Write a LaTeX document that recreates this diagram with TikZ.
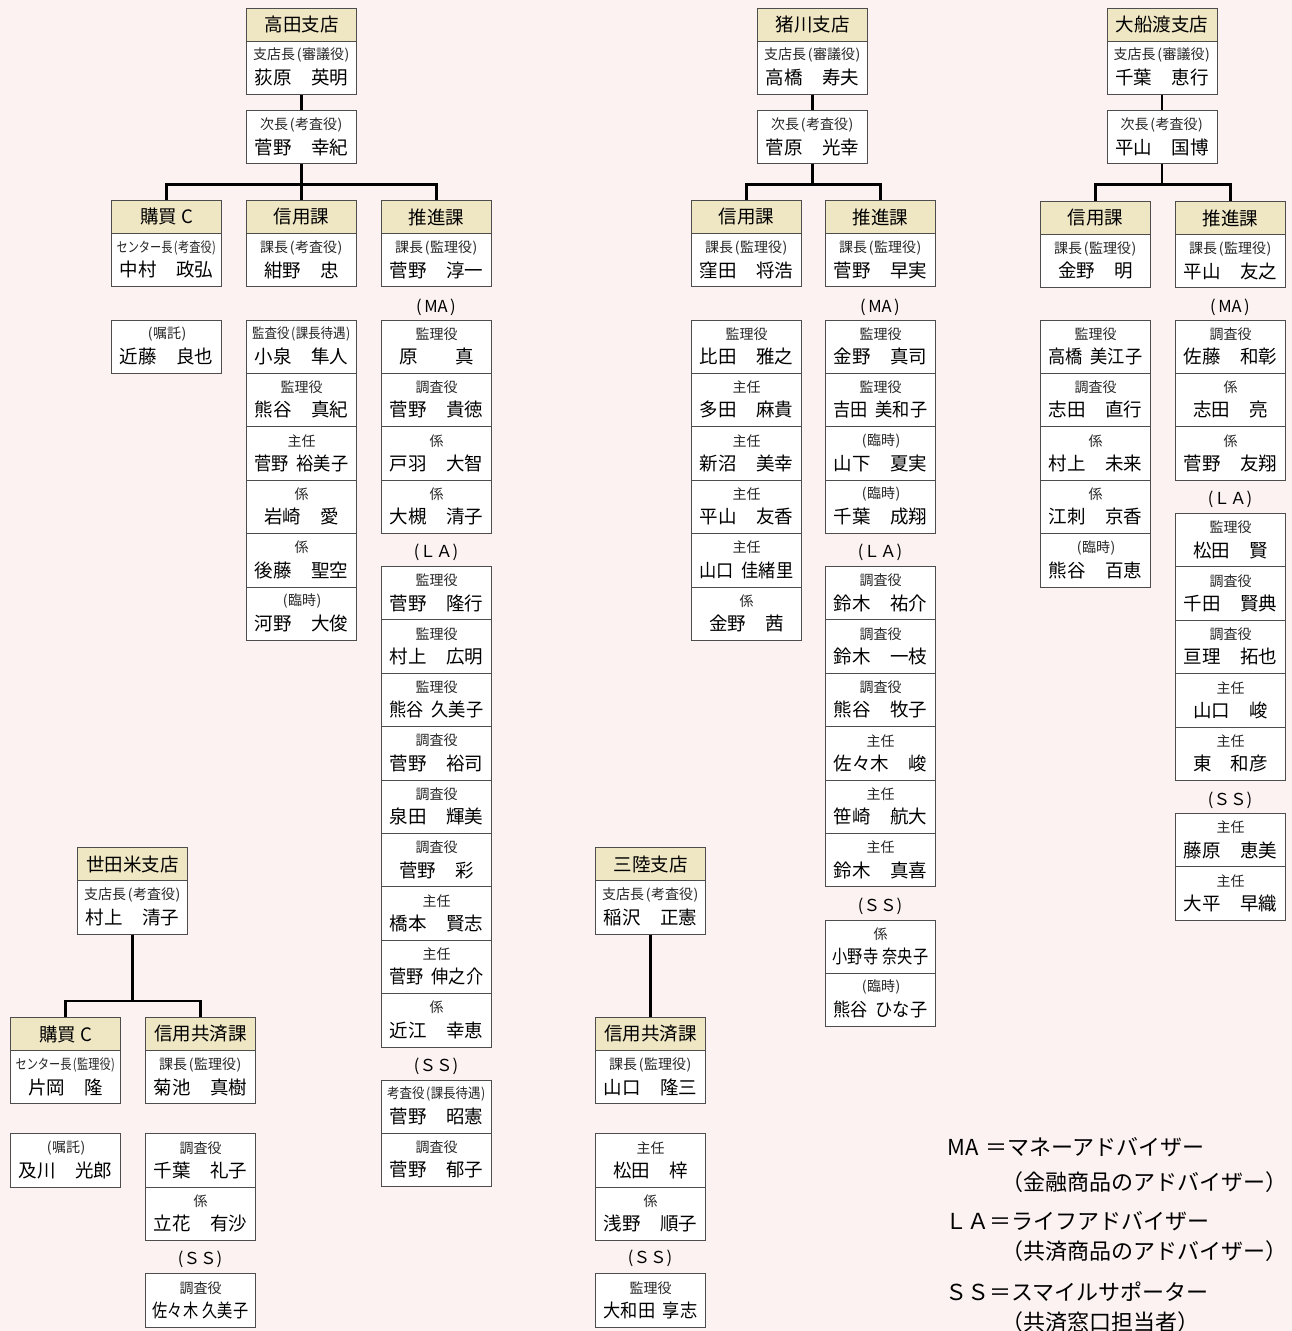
\documentclass[tikz,border=0pt]{standalone}
\usepackage{fontspec}
\setmainfont{Noto Sans CJK JP}
\usepackage{graphicx}
\definecolor{bgpink}{HTML}{FCF2F2}
\definecolor{hdrtan}{HTML}{EFE6C3}
\definecolor{bordergray}{HTML}{4D4D4D}
\def\cellH{53.4}
\newcommand\nmA[2]{\makebox[5.05em]{#1\hfill#2}}
\newcommand\nmB[2]{\makebox[4.05em]{#1\hfill#2}}
\newcommand\nmC[2]{\scalebox{0.82}[1]{#1\hspace{0.3em}#2}}
\newcommand\nmD[2]{\scalebox{0.93}[1]{#1\hspace{0.45em}#2}}
\newcommand\sqz[2]{\scalebox{#1}[1]{#2}}
\newcommand\pr[1]{\kern0.12em(\kern0.04em#1\kern0.04em)\kern0.04em}
\newcommand\mkhdr[4]{\node[hdrbox, anchor=north west] (#1) at (#2,#3) {#4};}
\newcommand\mkcell[5]{%
  \node[cellbox, anchor=north west] (#1) at (#2,#3) {};
  \node[roletxt] (#1r) at ([yshift=-14.5pt]#1.north) {#4};
  \node[nametxt] (#1n) at ([yshift=-37pt]#1.north) {#5};}
\begin{document}
\begin{tikzpicture}[x=1pt,y=-1pt,
 hdrbox/.style={draw=bordergray, fill=hdrtan, line width=1pt, minimum width=110pt, minimum height=33pt, inner sep=0pt, font=\fontsize{18.5}{20}\selectfont},
 cellbox/.style={draw=bordergray, fill=white, line width=1pt, minimum width=110pt, minimum height=53.4pt, inner sep=0pt},
 roletxt/.style={inner sep=0pt, font=\fontsize{14}{16}\selectfont, text=black!85},
 nametxt/.style={inner sep=0pt, font=\fontsize{18.5}{20}\selectfont},
 grptxt/.style={inner sep=0pt, font=\fontsize{16.5}{18}\selectfont},
 legtxt/.style={inner sep=0pt, anchor=west, font=\fontsize{22}{24}\selectfont},
 conn/.style={line width=2.2pt, draw=black}]
\fill[bgpink] (0,0) rectangle (1292,1331);
\useasboundingbox (0,0) rectangle (1292,1331);

% ================= 高田支店 =================
\mkhdr{tkh}{246}{7.5}{高田支店}
\mkcell{tkc}{246}{40.5}{支店長\pr{審議役}}{\nmA{荻原}{英明}}
\mkcell{tkv}{246}{110}{次長\pr{考査役}}{\nmA{菅野}{幸紀}}
\mkhdr{tkah}{111}{200}{購買 C}
\mkcell{tkac}{111}{233}{\sqz{0.8}{センター長\pr{考査役}}}{\nmA{中村}{政弘}}
\mkhdr{tkbh}{246}{200}{信用課}
\mkcell{tkbc}{246}{233}{課長\pr{考査役}}{\nmB{紺野}{忠}}
\mkhdr{tkch}{381}{200}{推進課}
\mkcell{tkcc}{381}{233}{課長\pr{監理役}}{\nmA{菅野}{淳一}}
\mkcell{tka1}{111}{319.5}{\pr{嘱託}}{\nmA{近藤}{良也}}
\mkcell{tkb1}{246}{319.5+0*\cellH}{\sqz{0.89}{監査役\pr{課長待遇}}}{\nmA{小泉}{隼人}}
\mkcell{tkb2}{246}{319.5+1*\cellH}{監理役}{\nmA{熊谷}{真紀}}
\mkcell{tkb3}{246}{319.5+2*\cellH}{主任}{\nmD{菅野}{裕美子}}
\mkcell{tkb4}{246}{319.5+3*\cellH}{係}{\nmB{岩崎}{愛}}
\mkcell{tkb5}{246}{319.5+4*\cellH}{係}{\nmA{後藤}{聖空}}
\mkcell{tkb6}{246}{319.5+5*\cellH}{\pr{臨時}}{\nmA{河野}{大俊}}
\node[grptxt] (tkma) at (436,307) {(\kern0.15em MA\kern0.15em)};
\mkcell{tkm1}{381}{319.5+0*\cellH}{監理役}{\nmB{原}{真}}
\mkcell{tkm2}{381}{319.5+1*\cellH}{調査役}{\nmA{菅野}{貴徳}}
\mkcell{tkm3}{381}{319.5+2*\cellH}{係}{\nmA{戸羽}{大智}}
\mkcell{tkm4}{381}{319.5+3*\cellH}{係}{\nmA{大槻}{清子}}
\node[grptxt] (tkla) at (436,552) {(ＬＡ)};
\mkcell{tkl1}{381}{566+0*\cellH}{監理役}{\nmA{菅野}{隆行}}
\mkcell{tkl2}{381}{566+1*\cellH}{監理役}{\nmA{村上}{広明}}
\mkcell{tkl3}{381}{566+2*\cellH}{監理役}{\nmD{熊谷}{久美子}}
\mkcell{tkl4}{381}{566+3*\cellH}{調査役}{\nmA{菅野}{裕司}}
\mkcell{tkl5}{381}{566+4*\cellH}{調査役}{\nmA{泉田}{輝美}}
\mkcell{tkl6}{381}{566+5*\cellH}{調査役}{\nmB{菅野}{彩}}
\mkcell{tkl7}{381}{566+6*\cellH}{主任}{\nmA{橋本}{賢志}}
\mkcell{tkl8}{381}{566+7*\cellH}{主任}{\nmD{菅野}{伸之介}}
\mkcell{tkl9}{381}{566+8*\cellH}{係}{\nmA{近江}{幸恵}}
\node[grptxt] (tkss) at (436,1066) {(ＳＳ)};
\mkcell{tks1}{381}{1079.5+0*\cellH}{\sqz{0.89}{考査役\pr{課長待遇}}}{\nmA{菅野}{昭憲}}
\mkcell{tks2}{381}{1079.5+1*\cellH}{調査役}{\nmA{菅野}{郁子}}

% ================= 猪川支店 =================
\mkhdr{inh}{757}{7.5}{猪川支店}
\mkcell{inc}{757}{40.5}{支店長\pr{審議役}}{\nmA{高橋}{寿夫}}
\mkcell{inv}{757}{110}{次長\pr{考査役}}{\nmA{菅原}{光幸}}
\mkhdr{inah}{691}{200}{信用課}
\mkcell{inac}{691}{233}{課長\pr{監理役}}{\nmA{窪田}{将浩}}
\mkhdr{inbh}{825}{200}{推進課}
\mkcell{inbc}{825}{233}{課長\pr{監理役}}{\nmA{菅野}{早実}}
\mkcell{ina1}{691}{319.5+0*\cellH}{監理役}{\nmA{比田}{雅之}}
\mkcell{ina2}{691}{319.5+1*\cellH}{主任}{\nmA{多田}{麻貴}}
\mkcell{ina3}{691}{319.5+2*\cellH}{主任}{\nmA{新沼}{美幸}}
\mkcell{ina4}{691}{319.5+3*\cellH}{主任}{\nmA{平山}{友香}}
\mkcell{ina5}{691}{319.5+4*\cellH}{主任}{\nmD{山口}{佳緒里}}
\mkcell{ina6}{691}{319.5+5*\cellH}{係}{\nmB{金野}{茜}}
\node[grptxt] (inma) at (880,307) {(\kern0.15em MA\kern0.15em)};
\mkcell{inm1}{825}{319.5+0*\cellH}{監理役}{\nmA{金野}{真司}}
\mkcell{inm2}{825}{319.5+1*\cellH}{監理役}{\nmD{吉田}{美和子}}
\mkcell{inm3}{825}{319.5+2*\cellH}{\pr{臨時}}{\nmA{山下}{夏実}}
\mkcell{inm4}{825}{319.5+3*\cellH}{\pr{臨時}}{\nmA{千葉}{成翔}}
\node[grptxt] (inla) at (880,552) {(ＬＡ)};
\mkcell{inl1}{825}{566+0*\cellH}{調査役}{\nmA{鈴木}{祐介}}
\mkcell{inl2}{825}{566+1*\cellH}{調査役}{\nmA{鈴木}{一枝}}
\mkcell{inl3}{825}{566+2*\cellH}{調査役}{\nmA{熊谷}{牧子}}
\mkcell{inl4}{825}{566+3*\cellH}{主任}{\nmA{佐々木}{峻}}
\mkcell{inl5}{825}{566+4*\cellH}{主任}{\nmA{笹崎}{航大}}
\mkcell{inl6}{825}{566+5*\cellH}{主任}{\nmA{鈴木}{真喜}}
\node[grptxt] (inss) at (880,906) {(ＳＳ)};
\mkcell{ins1}{825}{919.5+0*\cellH}{係}{\nmC{小野寺}{奈央子}}
\mkcell{ins2}{825}{919.5+1*\cellH}{\pr{臨時}}{\nmD{熊谷}{ひな子}}

% ================= 大船渡支店 =================
\mkhdr{ofh}{1106.5}{7.5}{大船渡支店}
\mkcell{ofc}{1106.5}{40.5}{支店長\pr{審議役}}{\nmA{千葉}{恵行}}
\mkcell{ofv}{1106.5}{110}{次長\pr{考査役}}{\nmA{平山}{国博}}
\mkhdr{ofah}{1040}{201}{信用課}
\mkcell{ofac}{1040}{234}{課長\pr{監理役}}{\nmB{金野}{明}}
\mkhdr{ofbh}{1175}{201}{推進課}
\mkcell{ofbc}{1175}{234}{課長\pr{監理役}}{\nmA{平山}{友之}}
\mkcell{ofa1}{1040}{319.5+0*\cellH}{監理役}{\nmD{高橋}{美江子}}
\mkcell{ofa2}{1040}{319.5+1*\cellH}{調査役}{\nmA{志田}{直行}}
\mkcell{ofa3}{1040}{319.5+2*\cellH}{係}{\nmA{村上}{未来}}
\mkcell{ofa4}{1040}{319.5+3*\cellH}{係}{\nmA{江刺}{京香}}
\mkcell{ofa5}{1040}{319.5+4*\cellH}{\pr{臨時}}{\nmA{熊谷}{百恵}}
\node[grptxt] (ofma) at (1230,307) {(\kern0.15em MA\kern0.15em)};
\mkcell{ofm1}{1175}{319.5+0*\cellH}{調査役}{\nmA{佐藤}{和彰}}
\mkcell{ofm2}{1175}{319.5+1*\cellH}{係}{\nmB{志田}{亮}}
\mkcell{ofm3}{1175}{319.5+2*\cellH}{係}{\nmA{菅野}{友翔}}
\node[grptxt] (ofla) at (1230,499) {(ＬＡ)};
\mkcell{ofl1}{1175}{513+0*\cellH}{監理役}{\nmB{松田}{賢}}
\mkcell{ofl2}{1175}{513+1*\cellH}{調査役}{\nmA{千田}{賢典}}
\mkcell{ofl3}{1175}{513+2*\cellH}{調査役}{\nmA{亘理}{拓也}}
\mkcell{ofl4}{1175}{513+3*\cellH}{主任}{\nmB{山口}{峻}}
\mkcell{ofl5}{1175}{513+4*\cellH}{主任}{\nmB{東}{和彦}}
\node[grptxt] (ofss) at (1230,800) {(ＳＳ)};
\mkcell{ofs1}{1175}{813+0*\cellH}{主任}{\nmA{藤原}{恵美}}
\mkcell{ofs2}{1175}{813+1*\cellH}{主任}{\nmA{大平}{早織}}

% ================= 世田米支店 =================
\mkhdr{seh}{77}{847.3}{世田米支店}
\mkcell{sec}{77}{880.3}{支店長\pr{考査役}}{\nmA{村上}{清子}}
\mkhdr{seah}{10}{1017}{購買 C}
\mkcell{seac}{10}{1050}{\sqz{0.8}{センター長\pr{監理役}}}{\nmB{片岡}{隆}}
\mkhdr{sebh}{145}{1017}{信用共済課}
\mkcell{sebc}{145}{1050}{課長\pr{監理役}}{\nmA{菊池}{真樹}}
\mkcell{sea1}{10}{1133.3}{\pr{嘱託}}{\nmA{及川}{光郎}}
\mkcell{seb1}{145}{1133.3+0*\cellH}{調査役}{\nmA{千葉}{礼子}}
\mkcell{seb2}{145}{1133.3+1*\cellH}{係}{\nmA{立花}{有沙}}
\node[grptxt] (sess) at (200,1259) {(ＳＳ)};
\mkcell{ses1}{145}{1273.3}{調査役}{\nmC{佐々木}{久美子}}

% ================= 三陸支店 =================
\mkhdr{sah}{595}{847.3}{三陸支店}
\mkcell{sac}{595}{880.3}{支店長\pr{考査役}}{\nmA{稲沢}{正憲}}
\mkhdr{saah}{595}{1017}{信用共済課}
\mkcell{saac}{595}{1050}{課長\pr{監理役}}{\nmA{山口}{隆三}}
\mkcell{saa1}{595}{1133.3+0*\cellH}{主任}{\nmB{松田}{梓}}
\mkcell{saa2}{595}{1133.3+1*\cellH}{係}{\nmA{浅野}{順子}}
\node[grptxt] (sass) at (650,1258) {(ＳＳ)};
\mkcell{sas1}{595}{1273.3}{監理役}{\nmD{大和田}{享志}}

% ================= connectors =================
\draw[conn] (tkc.south) -- (tkv.north);
\draw[conn] (tkv.south) -- ++(0,20) coordinate (tkj);
\draw[conn] (tkj) -| (tkah.north);
\draw[conn] (tkj) -| (tkch.north);
\draw[conn] (tkj) -- (tkbh.north);

\draw[conn] (inc.south) -- (inv.north);
\draw[conn] (inv.south) -- ++(0,20) coordinate (inj);
\draw[conn] (inj) -| (inah.north);
\draw[conn] (inj) -| (inbh.north);

\draw[conn] (ofc.south) -- (ofv.north);
\draw[conn] (ofv.south) -- ++(0,20) coordinate (ofj);
\draw[conn] (ofj) -| (ofah.north);
\draw[conn] (ofj) -| (ofbh.north);

\draw[conn] (sec.south) -- ++(0,66) coordinate (sej);
\draw[conn] (sej) -| (seah.north);
\draw[conn] (sej) -| (sebh.north);

\draw[conn] (sac.south) -- (saah.north);

% ================= legend =================
\node[legtxt] (lg1) at (947,1147) {MA\hspace{0.3em}＝マネーアドバイザー};
\node[legtxt] (lg2) at (1001,1182) {（金融商品のアドバイザー）};
\node[legtxt] (lg3) at (945,1221) {ＬＡ＝ライフアドバイザー};
\node[legtxt] (lg4) at (1001,1251) {（共済商品のアドバイザー）};
\node[legtxt] (lg5) at (945,1292) {ＳＳ＝スマイルサポーター};
\node[legtxt] (lg6) at (1001,1322) {（共済窓口担当者）};
\end{tikzpicture}
\end{document}
